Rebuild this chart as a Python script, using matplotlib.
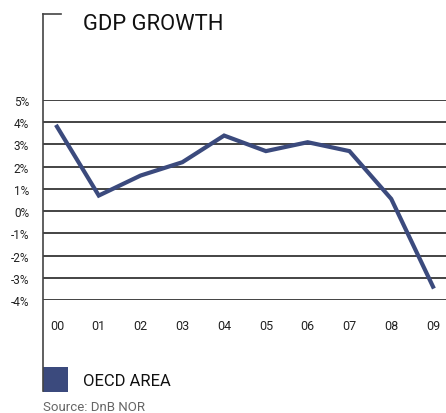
import matplotlib.pyplot as plt
from matplotlib.lines import Line2D
from matplotlib.patches import Rectangle

plt.rcParams['font.family'] = ['Roboto', 'DejaVu Sans']

# OECD area GDP growth, % per year
years = ['00', '01', '02', '03', '04', '05', '06', '07', '08', '09']
growth = [3.8, 0.7, 1.6, 2.2, 3.4, 2.7, 3.1, 2.7, 0.55, -3.4]
y_ticks = [5, 4, 3, 2, 1, 0, -1, -2, -3, -4]

navy = '#3b4a7d'
W, H = 446, 414

fig = plt.figure(figsize=(W / 100, H / 100), dpi=100)

# plot area: 5% line at y=101px, -4% line at y=301px
ax = fig.add_axes([43 / W, (H - 301) / H, (W - 43) / W, 200 / H])
ax.set_ylim(-4, 5)
ax.set_xlim(-14 / 41.8, 9 + 13 / 41.8)
for spine in ax.spines.values():
    spine.set_visible(False)

for v in y_ticks:
    ax.axhline(v, color='#111111', lw=1.1, zorder=1)

ax.plot(range(len(years)), growth, color=navy, lw=3.0,
        solid_joinstyle='miter', zorder=3)

ax.set_yticks(y_ticks)
ax.set_yticklabels([f'{v}%' for v in y_ticks])
ax.set_xticks(range(len(years)))
ax.set_xticklabels(years)
ax.tick_params(axis='y', length=0, pad=10, labelsize=8.5, labelcolor='#222222')
ax.tick_params(axis='x', length=0, pad=14, labelsize=9, labelcolor='#222222')

# left bracket line running from the title down to the legend
fig.add_artist(Line2D([43 / W, 43 / W], [1 - 15 / H, 1 - 392 / H],
                      color='#444444', lw=1.2, transform=fig.transFigure))
fig.add_artist(Line2D([43 / W, 61 / W], [1 - 15 / H, 1 - 15 / H],
                      color='#444444', lw=1.2, transform=fig.transFigure))

fig.text(83 / W, 1 - 25 / H, 'GDP GROWTH', fontsize=15.8, color='#111111',
         va='center', ha='left')

# legend swatch and label
fig.add_artist(Rectangle((43 / W, 1 - 393 / H), 25 / W, 25 / H,
                         facecolor=navy, edgecolor='none',
                         transform=fig.transFigure))
fig.text(83 / W, 1 - 382 / H, 'OECD AREA', fontsize=12, color='#111111',
         va='center', ha='left')

fig.text(43 / W, 1 - 408 / H, 'Source: DnB NOR', fontsize=9.5, color='#666666',
         va='center', ha='left')

fig.savefig('out.png', dpi=100)
